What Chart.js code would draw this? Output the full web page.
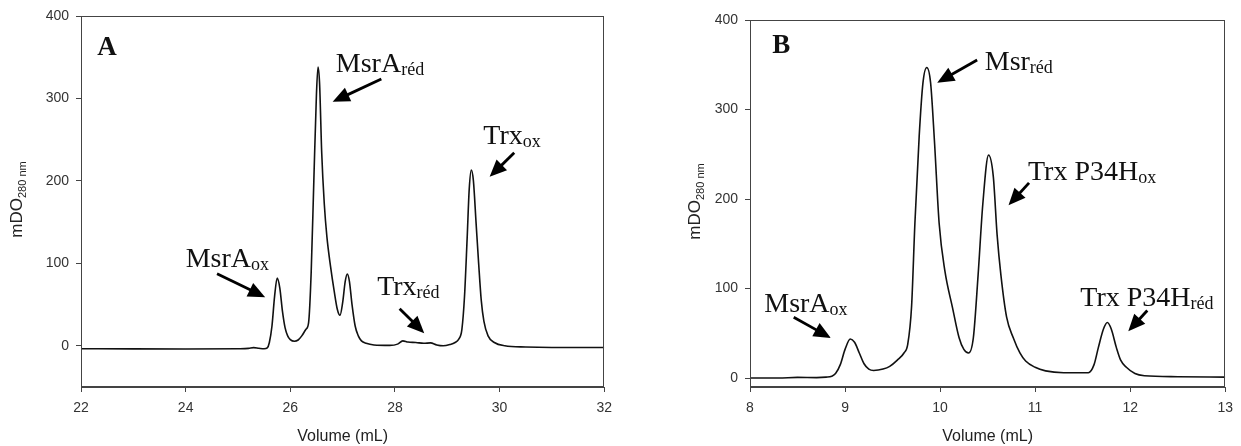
<!DOCTYPE html>
<html><head><meta charset="utf-8">
<script src="https://cdn.jsdelivr.net/npm/chart.js@4.4.0/dist/chart.umd.min.js"></script>
<style>
html,body{margin:0;padding:0;background:#fff;}
#wrap{position:relative;width:1241px;height:446px;overflow:hidden;background:#fff;}
#ca{position:absolute;left:0;top:0;}
#cb{position:absolute;left:620px;top:0;}
</style></head><body>
<div id="wrap"><canvas id="ca" width="620" height="446"></canvas><canvas id="cb" width="621" height="446"></canvas></div>
<script>
// ---- Panel A data (Volume mL, mDO 280 nm) ----
const volumeA = [22.0,23.0,24.0,25.0,25.2,25.3,25.4,25.5,25.56,25.6,25.65,25.7,25.75,25.8,25.85,25.9,25.95,26.0,26.08,26.15,26.22,26.3,26.35,26.4,26.45,26.5,26.53,26.56,26.6,26.65,26.7,26.77,26.84,26.9,26.95,27.0,27.05,27.09,27.13,27.18,27.24,27.3,27.36,27.45,27.6,27.9,28.05,28.15,28.25,28.4,28.55,28.68,28.8,28.92,29.05,29.15,29.22,29.28,29.33,29.38,29.42,29.46,29.5,29.55,29.6,29.65,29.7,29.78,29.9,30.1,30.5,31.0,32.0];
const absorbA = [-3.6,-3.8,-3.9,-3.6,-3.2,-2.2,-3.0,-3.6,-2.5,4,24,60,82,70,42,22,12,7.5,5.5,7,12,20,28,90,200,305,338,318,235,172,132,96,66,44,37,52,78,87,78,50,24,12,6,3,1,0.5,2,6,4.5,4,3,3.5,1,0,1.5,4,8,20,60,130,190,213,200,150,100,55,30,12,4,0,-1.5,-2,-2];
const xTicksA = [22,24,26,28,30,32];
const yTicksA = [0,100,200,300,400];

// ---- Panel B data ----
const volumeB = [8.0,8.3,8.5,8.7,8.8,8.86,8.9,8.95,9.0,9.055,9.1,9.15,9.2,9.25,9.3,9.4,9.47,9.55,9.62,9.66,9.7,9.735,9.78,9.82,9.86,9.9,9.94,9.99,10.05,10.13,10.2,10.25,10.3,10.35,10.4,10.45,10.51,10.56,10.6,10.64,10.7,10.77,10.84,10.9,11.0,11.11,11.3,11.56,11.62,11.665,11.72,11.76,11.8,11.855,11.9,11.96,12.05,12.15,12.5,13.0];
const absorbB = [0,0,0.8,0.5,1,2,5,15,32,43.7,40,28,16,10,8.5,10,13,20,28,38,80,173,270,330,347,330,266,173,120,79,45,32,28,45,115,195,249,225,160,115,68,45,28,19,12,8,6,6,15,34,55,62,55,34,20,12,5,2.6,1.5,1];
const xTicksB = [8,9,10,11,12,13];
const yTicksB = [0,100,200,300,400];

// ---- Annotations (data coordinates) ----
const annMainA = ['MsrA','Trx','MsrA','Trx'];
const annSubA  = ['réd','ox','ox','réd'];
const annXA = [26.87,29.69,24.0,27.66];
const annYA = [332,244.6,95.5,61];
const arrowsA = [[27.74,323.6,26.81,296],[30.28,234,29.81,204.9],[24.6,87.5,25.52,59],[28.09,45,28.56,15.3]];

const annMainB = ['Msr','Trx P34H','MsrA','Trx P34H'];
const annSubB  = ['réd','ox','ox','réd'];
const annXB = [10.47,10.925,8.15,11.475];
const annYB = [344,221,73.5,81];
const arrowsB = [[10.39,355.3,9.97,330],[10.936,218,10.72,193],[8.46,67.9,8.85,44.8],[12.18,75.4,11.98,52.2]];

function drawArrow(ctx,x1,y1,x2,y2){
  const a=Math.atan2(y2-y1,x2-x1), L=17, W=7.5;
  const bx=x2-L*Math.cos(a), by=y2-L*Math.sin(a);
  ctx.lineWidth=2.8; ctx.strokeStyle='#000'; ctx.fillStyle='#000';
  ctx.beginPath(); ctx.moveTo(x1,y1); ctx.lineTo(bx+2*Math.cos(a),by+2*Math.sin(a)); ctx.stroke();
  ctx.beginPath(); ctx.moveTo(x2,y2);
  ctx.lineTo(bx-W*Math.sin(a),by+W*Math.cos(a));
  ctx.lineTo(bx+W*Math.sin(a),by-W*Math.cos(a));
  ctx.closePath(); ctx.fill();
}

function makeDeco(id, letter, lx, ly, mains, subs, axs, ays, arrows, titleX){
  return {id:'deco'+id, afterDraw(chart){
    const {ctx, chartArea:ca, scales:{x,y}} = chart;
    ctx.save();
    ctx.strokeStyle='#444'; ctx.lineWidth=1;
    ctx.strokeRect(Math.round(ca.left)+0.5, Math.round(ca.top)+0.5, Math.round(ca.right-ca.left)-1, Math.round(ca.bottom-ca.top)-1);
    ctx.fillStyle='#111'; ctx.textBaseline='alphabetic'; ctx.textAlign='left';
    ctx.font='bold 27px "Liberation Serif"';
    ctx.fillText(letter, x.getPixelForValue(lx), y.getPixelForValue(ly));
    for(let i=0;i<mains.length;i++){
      const px=x.getPixelForValue(axs[i]), py=y.getPixelForValue(ays[i]);
      ctx.font='28px "Liberation Serif"';
      ctx.fillText(mains[i],px,py);
      const w=ctx.measureText(mains[i]).width;
      ctx.font='18px "Liberation Serif"';
      ctx.fillText(subs[i],px+w,py+3);
    }
    arrows.forEach(a=>drawArrow(ctx,x.getPixelForValue(a[0]),y.getPixelForValue(a[1]),x.getPixelForValue(a[2]),y.getPixelForValue(a[3])));
    // y-axis title
    ctx.translate(titleX,(ca.top+ca.bottom)/2-2);
    ctx.rotate(-Math.PI/2);
    ctx.fillStyle='#222';
    ctx.font='17px "Liberation Sans"';
    const w1=ctx.measureText('mDO').width;
    ctx.font='11px "Liberation Sans"';
    const w2=ctx.measureText('280 nm').width;
    const s=-(w1+w2)/2;
    ctx.font='17px "Liberation Sans"';
    ctx.fillText('mDO',s,6);
    ctx.font='11px "Liberation Sans"';
    ctx.fillText('280 nm',s+w1,10);
    ctx.restore();
  }};
}

function makeChart(id, xs, ys, xMin, xMax, yMin, yMax, xT, yT, yW, pad, deco){
  const pts = xs.map((v,i)=>({x:v,y:ys[i]}));
  const tickFont={family:'"Liberation Sans"',size:14};
  return new Chart(document.getElementById(id),{
    type:'line',
    data:{datasets:[{data:pts,borderColor:'#111',borderWidth:1.6,pointRadius:0,cubicInterpolationMode:'monotone',fill:false}]},
    options:{responsive:false,animation:false,devicePixelRatio:1,
      layout:{padding:pad},
      plugins:{legend:{display:false},tooltip:{enabled:false}},
      scales:{
        x:{type:'linear',min:xMin,max:xMax,
          afterBuildTicks(s){s.ticks=xT.map(v=>({value:v}));},
          afterFit(s){s.height=59;},
          grid:{drawOnChartArea:false,tickLength:5,color:'#444'},
          border:{color:'#444',width:1},
          ticks:{font:tickFont,color:'#333',padding:8,maxRotation:0,autoSkip:false},
          title:{display:true,text:'Volume (mL)',font:{family:'"Liberation Sans"',size:16},color:'#222',padding:0}},
        y:{type:'linear',min:yMin,max:yMax,
          afterBuildTicks(s){s.ticks=yT.map(v=>({value:v}));},
          afterFit(s){s.width=yW;},
          grid:{drawOnChartArea:false,tickLength:5,color:'#444'},
          border:{color:'#444',width:1},
          ticks:{font:tickFont,color:'#333',padding:7,autoSkip:false}}
      }
    },
    plugins:[deco]
  });
}

makeChart('ca',volumeA,absorbA,22,32,-50,400,xTicksA,yTicksA,81,{top:16,right:15,left:0,bottom:0},
  makeDeco('A','A',22.31,352.7,annMainA,annSubA,annXA,annYA,arrowsA,16));
makeChart('cb',volumeB,absorbB,8,13,-10,400,xTicksB,yTicksB,130,{top:20,right:9,left:0,bottom:0},
  makeDeco('B','B',8.233,362.8,annMainB,annSubB,annXB,annYB,arrowsB,74));
</script>
</body></html>
